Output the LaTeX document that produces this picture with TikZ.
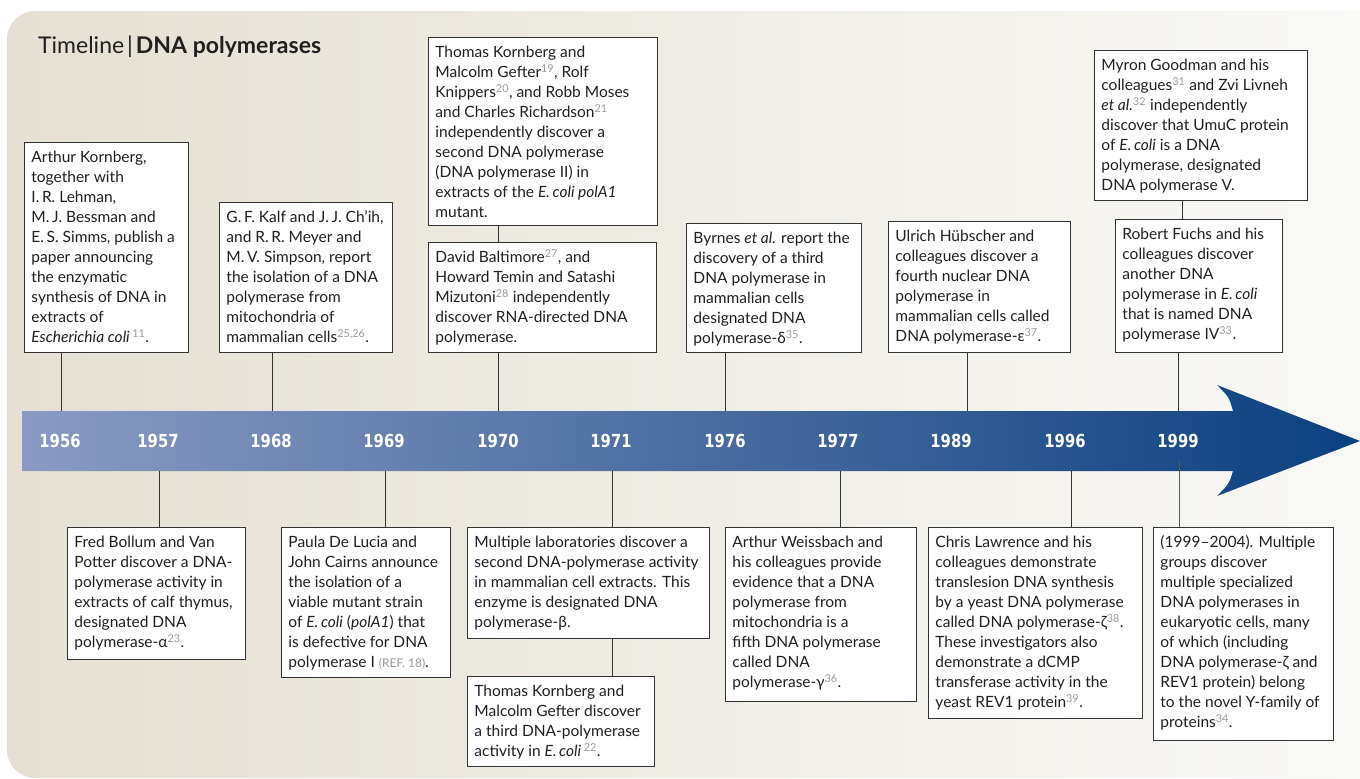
\documentclass[tikz,border=0pt]{standalone}
\usepackage{fontspec}
\setmainfont{Lato}
\newfontfamily\yearfont[FakeStretch=0.82]{DejaVu Sans}
\definecolor{bgL}{HTML}{E5E0D3}
\definecolor{bgR}{HTML}{FAFAF8}
\definecolor{barL}{HTML}{8A9AC3}
\definecolor{barM}{HTML}{4A66A2}
\definecolor{barR}{HTML}{0B4080}
\definecolor{boxline}{HTML}{333333}
\definecolor{textc}{HTML}{231F20}
\definecolor{refc}{HTML}{9A9A9A}
\newcommand\rf[1]{\textsuperscript{\color{refc}#1}}
\newcommand\evbox[6]{%
  \node[evbox, anchor=north west] (#1) at (#2,#3)
   {\begin{minipage}[t][\dimexpr#5pt-12pt\relax][t]{\dimexpr#4pt-14pt\relax}\raggedright\strut #6\end{minipage}};}
\tikzset{
  evbox/.style={draw=boxline, fill=white, line width=0.9pt, inner xsep=7pt, inner ysep=6pt,
    text=textc, font=\fontsize{15.5}{20}\selectfont},
  year/.style={text=white, font=\yearfont\bfseries\fontsize{18}{18}\selectfont, inner sep=0pt},
  conn/.style={draw=boxline, line width=0.8pt}
}
\begin{document}
\begin{tikzpicture}[x=1pt,y=-1pt]
\useasboundingbox (0,0) rectangle (1360,779);
\fill[white] (0,0) rectangle (1360,779);
% background panel
\shade[left color=bgL, right color=bgR, rounded corners=28pt]
  (1420,11) -- (7,11) -- (7,778) -- (1420,778) -- cycle;
% title
\node[anchor=base west, inner sep=0pt, text=textc, font=\fontsize{23}{26}\selectfont] (title) at (38,53)
  {Timeline\hspace{3pt}|\hspace{3pt}\textbf{DNA polymerases}};
% arrow
\shade[left color=barL, middle color=barM, right color=barR]
  (22,411) -- (1233,411) .. controls (1229,397) .. (1217,385) -- (1360,441)
  -- (1217,496) .. controls (1229,484) .. (1233,471) -- (22,471) -- cycle;
% years
\foreach \yr/\xx in {1956/60,1957/158,1968/271,1969/384,1970/498,1971/611,1976/725,1977/838,1989/951,1996/1065,1999/1178}
  \node[year] (y\yr) at (\xx,441) {\yr};
% attach coordinates on the bar
\coordinate (t1956) at (61,411);
\coordinate (t1968) at (272,411);
\coordinate (t1970) at (498,411);
\coordinate (t1976) at (725,411);
\coordinate (t1989) at (967,411);
\coordinate (t1999) at (1178,411);
\coordinate (c1999) at (1182,200);
\coordinate (b1957) at (159,471);
\coordinate (b1969) at (385,471);
\coordinate (b1971) at (612,471);
\coordinate (b1977) at (840,471);
\coordinate (b1996) at (1071,471);
\coordinate (b1999) at (1179,460);
% top boxes
\evbox{k1}{24}{142}{164}{210}{Arthur Kornberg,\\together with\\I.\,R. Lehman,\\M.\,J. Bessman and\\E.\,S. Simms, publish a\\paper announcing\\the enzymatic\\synthesis of DNA in\\extracts of\\\textit{Escherichia coli}\,\rf{11}.}
\evbox{k2}{219}{202}{173}{150}{G.\,F. Kalf and J.\,J. Ch'ih,\\and R.\,R. Meyer and\\M.\,V. Simpson, report\\the isolation of a DNA\\polymerase from\\mitochondria of\\mammalian cells\rf{25,26}.}
\evbox{k3}{428}{37}{229}{188}{Thomas Kornberg and\\Malcolm Gefter\rf{19}, Rolf\\Knippers\rf{20}, and Robb Moses\\and Charles Richardson\rf{21}\\independently discover a\\second DNA polymerase\\(DNA polymerase II) in\\extracts of the \textit{E.\,coli polA1}\\mutant.}
\evbox{k4}{428}{242}{228}{110}{David Baltimore\rf{27}, and\\Howard Temin and Satashi\\Mizutoni\rf{28} independently\\discover RNA-directed DNA\\polymerase.}
\evbox{k5}{686}{223}{175}{129}{Byrnes \textit{et al.} report the\\discovery of a third\\DNA polymerase in\\mammalian cells\\designated DNA\\polymerase-δ\rf{35}.}
\evbox{k6}{888}{221}{182}{131}{Ulrich Hübscher and\\colleagues discover a\\fourth nuclear DNA\\polymerase in\\mammalian cells called\\DNA polymerase-ε\rf{37}.}
\evbox{k7}{1094}{50}{213}{150}{Myron Goodman and his\\colleagues\rf{31} and Zvi Livneh\\\textit{et al.}\rf{32} independently\\discover that UmuC protein\\of \textit{E.\,coli} is a DNA\\polymerase, designated\\DNA polymerase V.}
\evbox{k8}{1115}{219}{167}{133}{Robert Fuchs and his\\colleagues discover\\another DNA\\polymerase in \textit{E.\,coli}\\that is named DNA\\polymerase IV\rf{33}.}
% bottom boxes
\evbox{b1}{67}{527}{178}{132}{Fred Bollum and Van\\Potter discover a DNA-\\polymerase activity in\\extracts of calf thymus,\\designated DNA\\polymerase-α\rf{23}.}
\evbox{b2}{281}{527}{169}{150}{Paula De Lucia and\\John Cairns announce\\the isolation of a\\viable mutant strain\\of \textit{E.\,coli} (\textit{polA1}) that\\is defective for DNA\\polymerase I {\color{refc}\fontsize{12}{20}\selectfont(REF.~18)}.}
\evbox{b3}{467}{527}{242}{111}{Multiple laboratories discover a\\second DNA-polymerase activity\\in mammalian cell extracts. This\\enzyme is designated DNA\\polymerase-β.}
\evbox{b4}{467}{676}{187}{90}{Thomas Kornberg and\\Malcolm Gefter discover\\a third DNA-polymerase\\activity in \textit{E.\,coli}\,\rf{22}.}
\evbox{b5}{725}{527}{191}{174}{Arthur Weissbach and\\his colleagues provide\\evidence that a DNA\\polymerase from\\mitochondria is a\\fifth DNA polymerase\\called DNA\\polymerase-γ\rf{36}.}
\evbox{b6}{928}{527}{214}{191}{Chris Lawrence and his\\colleagues demonstrate\\translesion DNA synthesis\\by a yeast DNA polymerase\\called DNA polymerase-ζ\rf{38}.\\These investigators also\\demonstrate a dCMP\\transferase activity in the\\yeast REV1 protein\rf{39}.}
\evbox{b7}{1153}{527}{180}{213}{(1999--2004). Multiple\\groups discover\\multiple specialized\\DNA polymerases in\\eukaryotic cells, many\\of which (including\\DNA polymerase-ζ and\\REV1 protein) belong\\to the novel Y-family of\\proteins\rf{34}.}
% connectors (top)
\draw[conn] (k1.south -| t1956) -- (t1956);
\draw[conn] (k2.south -| t1968) -- (t1968);
\draw[conn] (k3.south -| t1970) -- (k4.north -| t1970);
\draw[conn] (k4.south -| t1970) -- (t1970);
\draw[conn] (k5.south -| t1976) -- (t1976);
\draw[conn] (k6.south -| t1989) -- (t1989);
\draw[conn] (c1999) -- (k8.north -| c1999);
\draw[conn] (k8.south -| t1999) -- (t1999);
% connectors (bottom)
\draw[conn] (b1957) -- (b1.north -| b1957);
\draw[conn] (b1969) -- (b2.north -| b1969);
\draw[conn] (b1971) -- (b3.north -| b1971);
\draw[conn] (b3.south -| b1971) -- (b4.north -| b1971);
\draw[conn] (b1977) -- (b5.north -| b1977);
\draw[conn] (b1996) -- (b6.north -| b1996);
\draw[conn, draw=gray!70!black] (b1999) -- (b7.north -| b1999);
\end{tikzpicture}
\end{document}
